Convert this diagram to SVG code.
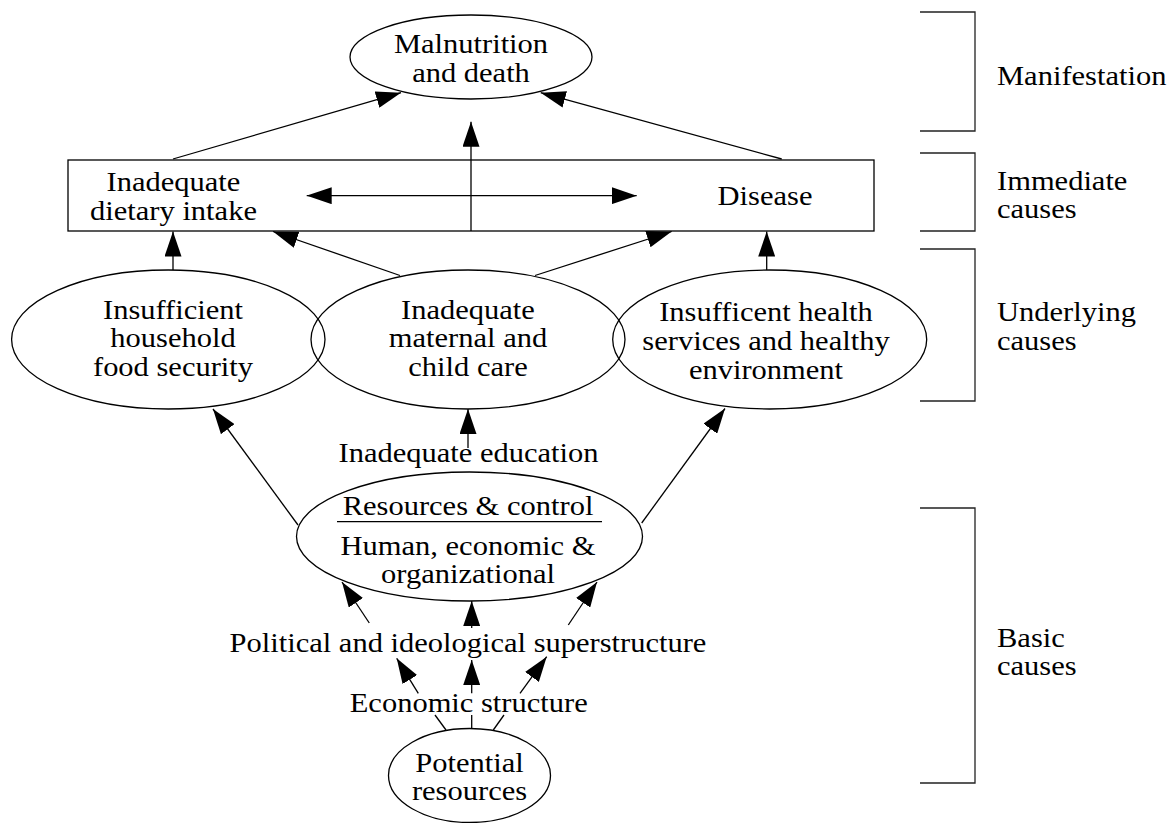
<svg xmlns="http://www.w3.org/2000/svg" width="1174" height="823" viewBox="0 0 1174 823">
<style>
.t{font-family:"Liberation Serif","Times New Roman",serif;font-size:28px;fill:#000;text-anchor:middle}
.l{font-family:"Liberation Serif","Times New Roman",serif;font-size:28px;fill:#000;text-anchor:start}
.s{fill:#fff;stroke:#000;stroke-width:1.3}
.c{fill:none;stroke:#000;stroke-width:1.3}
.a{fill:none;stroke:#000;stroke-width:1.3;marker-end:url(#ah)}
.b{fill:none;stroke:#222;stroke-width:1.3}
</style>
<defs>
<marker id="ah" viewBox="0 0 25 17" refX="25" refY="8.5" markerWidth="25" markerHeight="17" markerUnits="userSpaceOnUse" orient="auto-start-reverse">
<path d="M0,0 L25,8.5 L0,17 z" fill="#000"/>
</marker>
</defs>
<rect width="1174" height="823" fill="#fff"/>

<g id="n-immediate">
<rect class="s" x="68" y="160" width="806" height="71"/>
<text class="t" transform="translate(173.5,0) scale(1.09,1)"><tspan x="0" y="190.7">Inadequate</tspan><tspan x="0" y="220">dietary intake</tspan></text>
<text class="t" transform="translate(765,0) scale(1.09,1)"><tspan x="0" y="205">Disease</tspan></text>
</g>

<g id="n-food">
<ellipse class="s" cx="168.3" cy="339.5" rx="156.7" ry="69.5"/>
</g>
<g id="n-care">
<ellipse class="s" cx="468" cy="339.5" rx="157" ry="69.5" fill-opacity="0"/>
</g>
<g id="n-health">
<ellipse class="s" cx="769.7" cy="339.5" rx="157" ry="69.5" fill-opacity="0"/>
</g>
<g id="n-food-text">
<text class="t" transform="translate(173,0) scale(1.09,1)"><tspan x="0" y="319.5">Insufficient</tspan><tspan x="0" y="347.5">household</tspan><tspan x="0" y="376.5">food security</tspan></text>
</g>
<g id="n-care-text">
<text class="t" transform="translate(468,0) scale(1.09,1)"><tspan x="0" y="319.5">Inadequate</tspan><tspan x="0" y="347.5">maternal and</tspan><tspan x="0" y="376.5">child care</tspan></text>
</g>
<g id="n-health-text">
<text class="t" transform="translate(766,0) scale(1.09,1)"><tspan x="0" y="321">Insufficent health</tspan><tspan x="0" y="350">services and healthy</tspan><tspan x="0" y="379">environment</tspan></text>
</g>

<g id="n-malnutrition">
<ellipse class="s" cx="471" cy="57" rx="121" ry="42"/>
<text class="t" transform="translate(471,0) scale(1.09,1)"><tspan x="0" y="53.3">Malnutrition</tspan><tspan x="0" y="82.3">and death</tspan></text>
</g>

<g id="n-education">
<text class="t" transform="translate(468.5,0) scale(1.09,1)"><tspan x="0" y="461.7">Inadequate education</tspan></text>
</g>

<g id="n-resources">
<ellipse class="s" cx="469.5" cy="536.5" rx="173" ry="64.5"/>
<text class="t" transform="translate(468,0) scale(1.09,1)"><tspan x="0" y="515">Resources &amp; control</tspan><tspan x="0" y="555">Human, economic &amp;</tspan><tspan x="0" y="583">organizational</tspan></text>
<line class="c" x1="337" y1="521.7" x2="602" y2="521.7"/>
</g>

<g id="n-political">
<text class="t" transform="translate(468,0) scale(1.09,1)"><tspan x="0" y="651.7">Political and ideological superstructure</tspan></text>
</g>

<g id="n-economic">
<text class="t" transform="translate(468.7,0) scale(1.09,1)"><tspan x="0" y="711.7">Economic structure</tspan></text>
</g>

<g id="n-potential">
<ellipse class="s" cx="469.5" cy="775.5" rx="81" ry="47"/>
<text class="t" transform="translate(469.5,0) scale(1.09,1)"><tspan x="0" y="771.7">Potential</tspan><tspan x="0" y="800">resources</tspan></text>
</g>

<g id="connectors">
<line class="a" x1="173" y1="159" x2="401" y2="92.7"/>
<line class="a" x1="781.7" y1="159" x2="540.7" y2="92.7"/>
<line class="a" x1="471" y1="231" x2="471" y2="121.7"/>
<line class="a" x1="306.7" y1="195.7" x2="636.7" y2="195.7" marker-start="url(#ah)"/>
<line class="a" x1="173" y1="270" x2="173" y2="231.5"/>
<line class="a" x1="400" y1="275.5" x2="273" y2="231.5"/>
<line class="a" x1="535" y1="275.5" x2="671.7" y2="231.5"/>
<line class="a" x1="766.7" y1="270" x2="766.7" y2="231.5"/>
<line class="a" x1="468" y1="448" x2="468" y2="409"/>
<line class="a" x1="298" y1="525" x2="213" y2="409"/>
<line class="a" x1="641.7" y1="523" x2="725" y2="408.5"/>
<line class="a" x1="369.3" y1="623" x2="342" y2="582"/>
<line class="a" x1="471.7" y1="628" x2="471.7" y2="601"/>
<line class="a" x1="568.3" y1="625" x2="597" y2="582"/>
<line class="a" x1="418.3" y1="693.3" x2="396.7" y2="658.3"/>
<line class="a" x1="471.7" y1="693.3" x2="471.7" y2="660"/>
<line class="a" x1="520" y1="693.3" x2="546.7" y2="656.7"/>
<line class="c" x1="446" y1="730" x2="435" y2="715"/>
<line class="c" x1="471.7" y1="728.5" x2="471.7" y2="715"/>
<line class="c" x1="493.3" y1="730" x2="504" y2="715"/>
</g>

<g id="brackets">
<path class="b" d="M920,12 H975 V131 H920"/>
<path class="b" d="M920,153 H975 V231 H920"/>
<path class="b" d="M920,249 H975 V401 H920"/>
<path class="b" d="M920,508 H975 V783 H920"/>
<text class="l" transform="translate(997,0) scale(1.09,1)"><tspan x="0" y="85">Manifestation</tspan></text>
<text class="l" transform="translate(997,0) scale(1.09,1)"><tspan x="0" y="190">Immediate</tspan><tspan x="0" y="218">causes</tspan></text>
<text class="l" transform="translate(997,0) scale(1.09,1)"><tspan x="0" y="321.5">Underlying</tspan><tspan x="0" y="350">causes</tspan></text>
<text class="l" transform="translate(997,0) scale(1.09,1)"><tspan x="0" y="647">Basic</tspan><tspan x="0" y="675">causes</tspan></text>
</g>
</svg>
